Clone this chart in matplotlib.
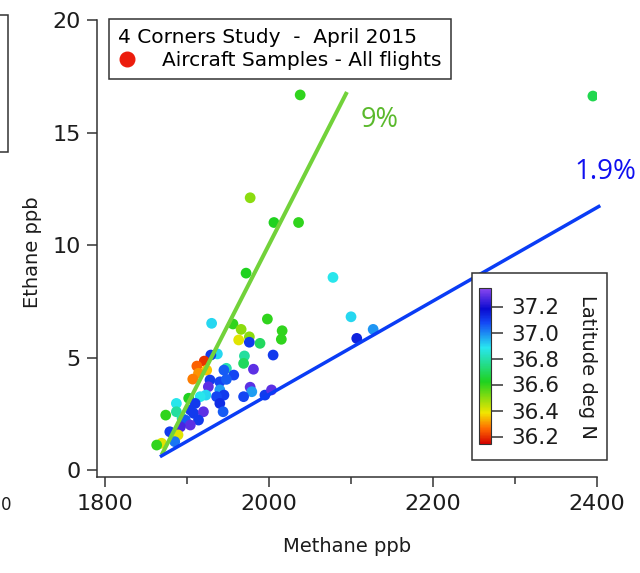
import matplotlib
matplotlib.use("Agg")
import matplotlib.pyplot as plt
from matplotlib.colors import LinearSegmentedColormap, Normalize
from matplotlib.lines import Line2D
from matplotlib.patches import Rectangle

# aircraft samples: methane (ppb), ethane (ppb), latitude (deg N)
methane = [1930, 1956, 1966, 1976, 1963, 1976, 1989, 1998, 2016, 2015,
           2005, 1970, 1969, 1981, 1948, 1945, 1957, 1937, 1929, 1921,
           1912, 1924, 1914, 1907, 1928, 1940, 1948, 1926, 1940, 1945,
           1936, 1923, 1916, 1902, 1910, 1940, 1944, 1977, 1979, 1969,
           1995, 2003, 1887, 1887, 1904, 1908, 1920, 1874, 1894, 1898,
           1914, 1904, 1892, 1879, 1889, 1885, 1869, 1863,
           2038, 2395, 2036, 2006, 1977, 1972, 2078, 2100, 2127, 2107]
ethane = [6.52, 6.49, 6.25, 5.92, 5.78, 5.68, 5.63, 6.71, 6.19, 5.81,
          5.11, 5.07, 4.74, 4.48, 4.52, 4.44, 4.22, 5.16, 5.11, 4.84,
          4.62, 4.44, 4.30, 4.04, 4.00, 3.92, 4.03, 3.70, 3.56, 3.33,
          3.26, 3.33, 3.26, 3.19, 2.96, 2.96, 2.59, 3.68, 3.48, 3.26,
          3.33, 3.56, 2.96, 2.59, 2.67, 2.52, 2.59, 2.44, 2.30, 2.22,
          2.22, 2.00, 1.92, 1.70, 1.56, 1.26, 1.19, 1.11,
          16.67, 16.62, 11.0, 11.0, 12.1, 8.75, 8.56, 6.81, 6.25, 5.85]
latitude = [36.90, 36.60, 36.50, 36.50, 36.40, 37.10, 36.70, 36.60, 36.60, 36.60,
            37.10, 36.78, 36.70, 37.28, 36.80, 37.05, 37.08, 36.90, 37.10, 36.20,
            36.25, 36.35, 36.30, 36.28, 37.10, 37.08, 37.05, 37.28, 36.97, 37.10,
            37.08, 36.90, 36.88, 36.62, 37.10, 37.12, 37.05, 37.28, 36.97, 37.08,
            37.10, 37.28, 36.88, 36.78, 37.10, 37.10, 37.28, 36.60, 36.80, 37.05,
            37.10, 37.28, 37.26, 37.10, 36.40, 37.02, 36.40, 36.60,
            36.60, 36.68, 36.60, 36.62, 36.50, 36.62, 36.88, 36.90, 36.98, 37.14]

# mixing lines (start / end points)
line_9_x = [1869, 2095]
line_9_y = [0.67, 16.8]
line_19_x = [1867, 2404]
line_19_y = [0.59, 11.75]

lat_ticks = [36.2, 36.4, 36.6, 36.8, 37.0, 37.2]

W, H = 640, 573
fig = plt.figure(figsize=(W / 100, H / 100), dpi=100)
ink = "#1c1c1c"

cmap = LinearSegmentedColormap.from_list(
    "lat", [(0.0, "#d40000"), (0.1, "#ff6a00"), (0.2, "#f2e600"),
            (0.4, "#1fd21f"), (0.62, "#28e6f0"), (0.78, "#1448f5"),
            (0.87, "#0a0ad0"), (1.0, "#8a46f0")])
norm = Normalize(vmin=36.14, vmax=37.34)

ax = fig.add_axes([97 / W, 96 / H, 500 / W, 457 / H])
sc = ax.scatter(methane, ethane, c=latitude, cmap=cmap, norm=norm,
                s=60, linewidths=0, zorder=3)
ax.plot(line_9_x, line_9_y, color="#72d23a", lw=2.9, solid_capstyle="butt", zorder=4)
ax.plot(line_19_x, line_19_y, color="#0a3cf5", lw=2.5, solid_capstyle="butt",
        zorder=4, clip_on=False)

ax.set_xlim(1790.2, 2400)
ax.set_ylim(-0.31, 20)
ax.set_xticks([1800, 2000, 2200, 2400])
ax.set_xticks([1900, 2100, 2300], minor=True)
ax.set_yticks([0, 5, 10, 15, 20])
for s in ("top", "right"):
    ax.spines[s].set_visible(False)
for s in ("left", "bottom"):
    ax.spines[s].set_color("#333333")
    ax.spines[s].set_linewidth(1.1)
ax.tick_params(which="major", length=7.5, width=1.1, color="#333333",
               labelsize=16, labelcolor=ink)
ax.tick_params(axis="x", which="minor", length=5, width=1.1, color="#333333")
ax.tick_params(axis="x", pad=5)
ax.tick_params(axis="y", pad=4)

fig.text(33 / W, 1 - 252 / H, "Ethane ppb", rotation=90, ha="center",
         va="center", fontsize=14, color=ink)
fig.text(347 / W, 1 - 546 / H, "Methane ppb", ha="center", va="center",
         fontsize=14, color=ink)

ax.text(2135, 15.56, "9%", color="#5ab92c", fontsize=19.5, family="Open Sans",
        ha="center", va="center", clip_on=False)
ax.text(2410, 13.24, "1.9%", color="#1010f0", fontsize=20, family="Open Sans",
        ha="center", va="center", clip_on=False)

leg = ax.legend(handles=[Line2D([], [], marker="o", ls="", color="#ec1c0c", ms=10.5)],
                labels=["Aircraft Samples - All flights"],
                title="4 Corners Study  -  April 2015", alignment="left",
                loc="upper left", bbox_to_anchor=(109 / W, 1 - 19 / H),
                bbox_transform=fig.transFigure, borderaxespad=0,
                fontsize=14.5, title_fontsize=14.5, fancybox=False,
                edgecolor="#333333", framealpha=1, handletextpad=1.3,
                borderpad=0.45, labelspacing=0.2, handlelength=0.9)
leg.get_frame().set_linewidth(1.1)

# colour-scale box
box = Rectangle((472 / W, 113 / H), 135 / W, 187 / H, transform=fig.transFigure,
                facecolor="white", edgecolor="#333333", lw=1.1, zorder=10,
                clip_on=False)
ax.add_patch(box)
cax = fig.add_axes([479 / W, (H - 444.3) / H, 12 / W, 156 / H])
cb = fig.colorbar(sc, cax=cax, ticks=lat_ticks)
cb.outline.set_edgecolor("#333333")
cb.outline.set_linewidth(0.8)
cax.set_yticklabels([f"{t:.1f}" for t in lat_ticks])
cax.tick_params(length=8.5, width=1.1, color="#333333", pad=6,
                labelsize=15.5, labelcolor=ink)
fig.text(587 / W, 1 - 367 / H, "Latitude deg N", rotation=270, ha="center",
         va="center", fontsize=14, color=ink)

# fragments of the neighbouring slide content
fig.add_artist(Rectangle((-0.05, (H - 152) / H), 0.05 + 8 / W, 137 / H,
                         transform=fig.transFigure, fill=False,
                         edgecolor="#333333", lw=1.1))
fig.text(1 / W, 1 - 505 / H, "0", ha="left", va="center", fontsize=12, color=ink)

fig.savefig("out.png", dpi=100)
